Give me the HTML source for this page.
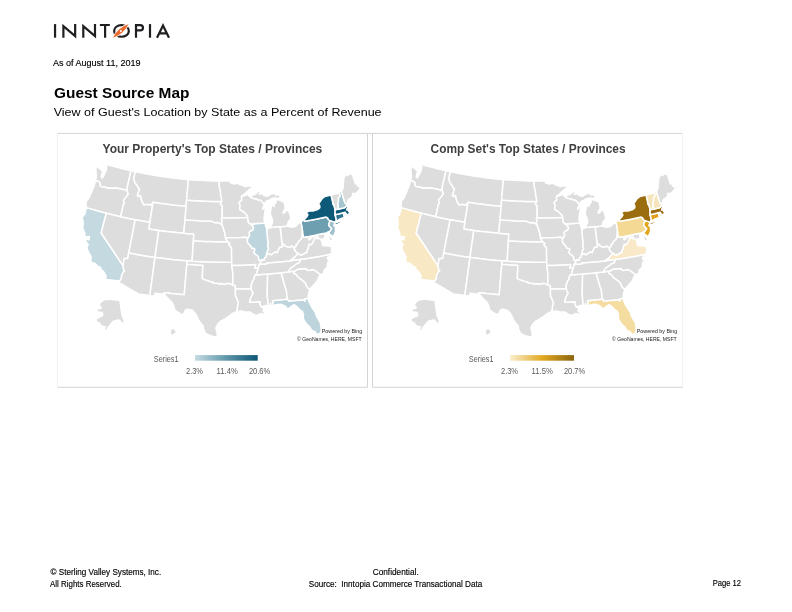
<!DOCTYPE html>
<html><head><meta charset="utf-8"><title>Guest Source Map</title>
<style>
html,body{margin:0;padding:0;background:#fff}
body{width:792px;height:612px;position:relative;overflow:hidden}
svg{position:absolute;left:0;top:0;font-family:"Liberation Sans",sans-serif;will-change:transform;-webkit-font-smoothing:antialiased}
</style></head><body>
<svg width="792" height="612" viewBox="0 0 792 612">
<defs>
<linearGradient id="gb" x1="0" x2="1" y1="0" y2="0"><stop offset="0" stop-color="#c5dbe3"/><stop offset="0.5" stop-color="#5f97aa"/><stop offset="1" stop-color="#0b5675"/></linearGradient>
<linearGradient id="go" x1="0" x2="1" y1="0" y2="0"><stop offset="0" stop-color="#fbeecf"/><stop offset="0.5" stop-color="#e2a922"/><stop offset="1" stop-color="#8c650e"/></linearGradient>
</defs>
<g id="logo" fill="none" stroke="#1f1f21" stroke-width="2.2" stroke-linejoin="miter" stroke-miterlimit="10">
<path d="M55.05,24.1V37.7"/>
<path d="M63.4,37.7V26.2L75.15,36.2V24.1"/>
<path d="M83.3,37.7V26.2L95,36.2V24.1"/>
<path d="M99.9,25H109.8M105.1,25V37.7"/>
<ellipse cx="121.5" cy="30.9" rx="7.35" ry="5.85"/>
<path d="M136,37.7V25.05H140.3a2.65,2.65 0 0 1 0,5.3H136"/>
<path d="M150,24.1V37.7"/>
<path d="M157,37.7L163,25.4L169,37.7M159.2,33.35H166.8"/>
</g>
<path d="M112,38.6Q117.4,27.1 129.5,23.2Q124.2,34.7 112,38.6Z" fill="#ee6b2f" stroke="#fff" stroke-width="0.9"/>
<circle cx="120.9" cy="30.9" r="1" fill="#fff"/>

<g fill="none" stroke="#d4d4d4" stroke-width="1">
<path d="M57.4,133.4H682.6"/>
<path d="M57.4,387.3H367.5M372.5,387.3H682.6"/>
<path d="M367.5,133.4V387.3M372.5,133.4V387.3"/>
</g>
<g fill="none" stroke="#f1f1f1" stroke-width="1"><path d="M57.4,133.4V387.3M682.6,133.4V387.3"/></g>
<g id="mapL"><g stroke="#fff" stroke-width="1.5" stroke-linejoin="round"><path d="M106.2,164.3L106.8,167.3L106.3,170.1L103.8,175.5L102.2,178.0L101.2,176.8L102.6,171.3L100.7,169.4L96.5,165.8L95.9,168.9L96.0,173.2L96.3,176.1L96.3,177.8L95.3,180.2L98.1,181.5L99.9,182.7L100.0,185.9L102.3,187.1L105.7,187.2L107.1,188.3L109.7,188.0L112.8,188.2L114.7,188.0L117.6,188.2L122.2,189.3L127.1,190.4L127.2,187.5L131.0,170.7L126.0,169.6L121.0,168.4L116.1,167.1L111.1,165.7Z" fill="#dddddd"/>
<path d="M95.3,180.2L95.0,182.7L93.6,187.2L92.0,190.9L90.2,195.3L88.4,198.7L86.2,201.6L86.1,204.7L86.2,207.6L91.2,209.1L96.2,210.5L101.3,211.9L106.3,213.2L113.5,215.0L120.7,216.7L123.4,204.6L124.4,203.0L124.1,201.9L123.5,200.3L126.0,197.1L127.1,195.6L128.3,194.1L127.6,191.9L127.1,190.4L122.2,189.3L117.6,188.2L114.7,188.0L112.8,188.2L109.7,188.0L107.1,188.3L105.7,187.2L102.3,187.1L100.0,185.9L99.9,182.7L98.1,181.5Z" fill="#dddddd"/>
<path d="M86.2,207.6L86.0,209.3L84.7,214.2L82.1,217.4L82.9,220.1L83.2,224.4L82.6,228.1L84.9,233.4L84.6,235.4L86.6,237.1L89.5,236.5L88.8,239.8L86.4,238.5L85.8,241.5L87.4,243.7L88.3,244.6L87.3,246.1L86.8,248.1L88.8,252.9L90.4,255.4L91.3,257.5L90.8,259.1L91.0,262.3L95.5,263.8L97.3,266.0L100.8,267.7L100.9,269.7L103.4,271.3L105.9,275.4L105.8,277.1L106.0,279.4L119.6,280.9L121.1,279.3L121.7,275.6L122.9,272.4L124.8,271.0L123.6,269.4L123.2,266.9L123.1,265.8L101.2,233.0L106.3,213.2L101.3,211.9L96.2,210.5L91.2,209.1Z" fill="#c5d9e1"/>
<path d="M106.3,213.2L113.5,215.0L120.7,216.7L127.9,218.3L135.2,219.7L128.7,253.1L127.7,258.4L125.8,258.4L123.9,258.7L123.7,261.8L123.1,265.8L101.2,233.0Z" fill="#dddddd"/>
<path d="M127.1,190.4L127.2,187.5L131.0,170.7L135.3,171.7L133.9,178.2L134.7,182.1L137.2,185.7L138.6,188.4L139.7,188.6L138.6,192.1L137.4,195.4L138.4,196.4L140.4,195.3L140.8,196.7L141.7,200.6L143.0,203.3L143.9,204.8L146.7,204.3L150.4,204.9L151.1,203.8L152.5,205.8L149.8,222.3L142.5,221.1L135.2,219.7L127.9,218.3L120.7,216.7L123.4,204.6L124.4,203.0L124.1,201.9L123.5,200.3L126.0,197.1L127.1,195.6L128.3,194.1L127.6,191.9Z" fill="#dddddd"/>
<path d="M135.3,171.7L139.7,172.6L144.1,173.4L148.5,174.3L152.9,175.0L157.3,175.8L161.7,176.5L166.1,177.1L170.6,177.7L175.0,178.2L179.5,178.7L183.9,179.2L188.4,179.6L186.6,200.0L186.1,206.3L181.4,205.9L176.6,205.4L171.9,204.9L167.2,204.3L162.5,203.7L157.8,203.0L153.0,202.3L152.5,205.8L151.1,203.8L150.4,204.9L146.7,204.3L143.9,204.8L143.0,203.3L141.7,200.6L140.8,196.7L140.4,195.3L138.4,196.4L137.4,195.4L138.6,192.1L139.7,188.6L138.6,188.4L137.2,185.7L134.7,182.1L133.9,178.2Z" fill="#dddddd"/>
<path d="M186.1,206.3L181.4,205.9L176.6,205.4L171.9,204.9L167.2,204.3L162.5,203.7L157.8,203.0L153.0,202.3L152.5,205.8L149.8,222.3L148.8,229.0L153.8,229.8L158.8,230.5L163.8,231.2L168.8,231.8L173.8,232.3L178.8,232.8L183.8,233.3L185.0,219.8Z" fill="#dddddd"/>
<path d="M135.2,219.7L142.5,221.1L149.8,222.3L148.8,229.0L153.8,229.8L158.8,230.5L155.0,257.4L149.8,256.7L144.5,255.9L139.2,255.0L134.0,254.1L128.7,253.1Z" fill="#dddddd"/>
<path d="M183.8,233.3L178.8,232.8L173.8,232.3L168.8,231.8L163.8,231.2L158.8,230.5L155.0,257.4L160.4,258.1L165.7,258.8L171.0,259.4L176.4,259.9L181.7,260.4L187.1,260.8L192.1,261.2L193.4,240.8L193.9,234.0L188.8,233.7Z" fill="#dddddd"/>
<path d="M128.7,253.1L134.0,254.1L139.2,255.0L144.5,255.9L149.8,256.7L155.0,257.4L149.8,295.6L138.3,293.9L118.8,282.3L119.6,280.9L121.1,279.3L121.7,275.6L122.9,272.4L124.8,271.0L123.6,269.4L123.2,266.9L123.1,265.8L123.7,261.8L123.9,258.7L125.8,258.4L127.7,258.4Z" fill="#dddddd"/>
<path d="M187.1,260.8L181.7,260.4L176.4,259.9L171.0,259.4L165.7,258.8L160.4,258.1L155.0,257.4L149.8,295.6L154.5,296.2L154.9,293.2L164.4,294.3L164.1,292.8L171.5,293.6L178.9,294.2L184.2,294.7L186.8,264.2Z" fill="#dddddd"/>
<path d="M186.8,264.2L184.2,294.7L178.9,294.2L171.5,293.6L164.1,292.8L164.4,294.3L166.1,296.6L169.2,299.6L172.4,302.8L173.8,306.0L174.7,309.8L175.7,310.9L178.5,312.7L182.2,315.0L184.1,312.9L185.5,310.0L187.6,309.3L192.2,310.3L195.0,313.1L196.9,316.1L198.8,320.5L201.9,324.7L203.3,326.1L203.5,329.1L205.5,333.4L210.3,335.7L214.3,336.8L217.3,336.7L217.1,333.1L215.9,327.8L217.8,324.1L220.8,321.1L224.9,318.8L229.1,316.0L231.7,314.0L233.7,313.0L236.9,311.5L237.4,308.8L237.6,306.1L238.5,302.7L236.9,298.7L235.5,296.0L235.4,289.1L235.3,285.5L232.8,285.0L229.9,283.4L227.1,283.5L224.3,284.3L221.0,283.6L218.8,283.9L217.7,283.2L215.5,283.2L213.5,283.3L212.7,281.7L210.0,281.4L206.7,280.3L204.5,279.6L202.3,278.3L202.9,265.2L197.5,264.9L192.2,264.6Z" fill="#dddddd"/>
<path d="M192.1,261.2L187.1,260.8L186.8,264.2L192.2,264.6L197.5,264.9L202.9,265.2L202.3,278.3L204.5,279.6L206.7,280.3L210.0,281.4L212.7,281.7L213.5,283.3L215.5,283.2L217.7,283.2L218.8,283.9L221.0,283.6L224.3,284.3L227.1,283.5L229.9,283.4L232.8,285.0L232.9,273.1L231.8,265.6L231.7,262.2L226.0,262.2L220.4,262.2L214.7,262.1L209.1,262.0L203.4,261.8L197.8,261.5Z" fill="#dddddd"/>
<path d="M193.4,240.8L192.1,261.2L197.8,261.5L203.4,261.8L209.1,262.0L214.7,262.1L220.4,262.2L226.0,262.2L231.7,262.2L231.5,247.7L230.0,246.2L229.0,244.8L230.0,243.5L227.9,241.8L222.2,241.8L216.4,241.7L210.7,241.6L204.9,241.4L199.2,241.1Z" fill="#dddddd"/>
<path d="M185.0,219.8L183.8,233.3L188.8,233.7L193.9,234.0L193.4,240.8L199.2,241.1L204.9,241.4L210.7,241.6L216.4,241.7L222.2,241.8L227.9,241.8L226.6,239.8L225.5,237.9L225.1,235.0L224.8,233.0L223.9,230.2L222.9,226.9L222.1,224.8L220.9,223.8L218.5,222.4L215.0,222.8L212.1,221.3L207.2,221.1L201.6,220.9L196.1,220.6L190.5,220.2Z" fill="#dddddd"/>
<path d="M186.6,200.0L186.1,206.3L185.0,219.8L190.5,220.2L196.1,220.6L201.6,220.9L207.2,221.1L212.1,221.3L215.0,222.8L218.5,222.4L220.9,223.8L222.1,224.8L221.6,222.4L222.1,220.8L221.4,218.7L222.2,218.0L222.2,205.9L220.3,203.8L221.7,201.6L216.7,201.5L211.7,201.4L206.7,201.2L201.7,201.0L196.6,200.7L191.6,200.4Z" fill="#dddddd"/>
<path d="M188.4,179.6L186.6,200.0L191.6,200.4L196.6,200.7L201.7,201.0L206.7,201.2L211.7,201.4L216.7,201.5L221.7,201.6L221.6,199.1L220.7,195.1L220.5,191.1L219.4,187.1L219.2,183.7L218.8,181.1L213.8,181.0L208.7,180.8L203.6,180.6L198.5,180.3L193.4,180.0Z" fill="#dddddd"/>
<path d="M221.7,201.6L221.6,199.1L220.7,195.1L220.5,191.1L219.4,187.1L219.2,183.7L218.8,181.1L223.5,181.1L228.2,181.1L228.4,179.7L229.5,180.1L230.2,181.7L230.6,182.9L234.3,184.1L236.1,183.6L238.1,183.4L240.1,184.6L242.4,185.4L245.2,186.8L247.9,185.7L251.6,186.2L253.9,186.8L249.9,189.0L246.4,192.2L243.8,194.5L242.4,196.0L241.5,196.5L241.7,200.2L239.6,201.9L239.0,203.3L240.2,204.9L239.8,207.6L239.6,209.3L242.1,210.8L244.1,212.2L246.1,214.2L247.4,215.8L247.6,217.5L242.5,217.7L237.4,217.9L232.3,218.0L227.2,218.0L222.2,218.0L222.2,205.9L220.3,203.8Z" fill="#dddddd"/>
<path d="M247.6,217.5L242.5,217.7L237.4,217.9L232.3,218.0L227.2,218.0L222.2,218.0L221.4,218.7L222.1,220.8L221.6,222.4L222.1,224.8L222.9,226.9L223.9,230.2L224.8,233.0L225.1,235.0L225.5,237.9L230.7,237.8L235.9,237.7L241.1,237.6L246.0,237.2L247.6,238.7L249.2,236.4L249.8,234.7L249.0,233.0L249.9,231.4L252.6,230.2L253.5,228.7L253.3,226.6L252.1,225.4L250.7,224.1L248.4,222.5L248.1,220.2Z" fill="#dddddd"/>
<path d="M247.6,238.7L246.0,237.2L241.1,237.6L235.9,237.7L230.7,237.8L225.5,237.9L226.6,239.8L227.9,241.8L230.0,243.5L229.0,244.8L230.0,246.2L231.5,247.7L231.7,262.2L231.8,265.6L238.2,265.4L244.7,265.2L251.2,264.9L255.7,264.6L254.7,268.1L258.3,267.9L258.8,266.1L259.2,264.4L260.7,262.9L260.8,261.0L259.4,260.3L258.7,259.0L258.7,257.3L256.9,255.0L255.9,254.6L253.9,252.8L254.7,250.2L254.6,248.4L252.0,248.3L251.7,247.2L249.8,244.9L247.9,242.9L247.4,241.3Z" fill="#dddddd"/>
<path d="M258.3,267.9L254.7,268.1L255.7,264.6L251.2,264.9L244.7,265.2L238.2,265.4L231.8,265.6L232.9,273.1L232.8,285.0L235.3,285.5L235.4,289.1L243.3,289.0L251.3,288.7L251.2,286.0L251.6,283.9L252.6,281.2L254.1,279.0L254.3,277.0L255.5,274.9L256.6,274.1L257.4,270.7Z" fill="#dddddd"/>
<path d="M251.3,288.7L243.3,289.0L235.4,289.1L235.5,296.0L236.9,298.7L238.5,302.7L237.6,306.1L237.4,308.8L236.9,311.5L241.9,311.1L246.0,312.3L248.4,311.8L250.7,312.4L252.6,314.0L255.6,315.2L259.1,314.7L260.2,313.6L262.9,314.1L264.7,314.9L265.5,313.5L263.0,311.0L263.9,308.3L261.5,307.1L261.2,306.4L259.9,304.1L260.4,301.7L255.4,302.0L249.7,302.3L250.2,300.3L250.6,298.2L252.2,294.8L253.2,293.0L252.0,291.4Z" fill="#dddddd"/>
<path d="M255.5,274.9L254.3,277.0L254.1,279.0L252.6,281.2L251.6,283.9L251.2,286.0L251.3,288.7L252.0,291.4L253.2,293.0L252.2,294.8L250.6,298.2L250.2,300.3L249.7,302.3L255.4,302.0L260.4,301.7L259.9,304.1L261.2,306.4L261.5,307.1L264.9,305.6L268.4,305.5L267.2,295.1L267.6,274.7L267.0,274.1L261.3,274.5Z" fill="#dddddd"/>
<path d="M268.4,305.5L267.2,295.1L267.6,274.7L267.0,274.1L274.1,273.4L281.1,272.7L285.1,286.8L286.5,290.5L286.8,295.6L287.5,299.3L278.4,300.2L272.6,300.8L273.7,305.6L271.3,305.6L270.6,303.3L270.2,305.7Z" fill="#dddddd"/>
<path d="M287.5,299.3L286.8,295.6L286.5,290.5L285.1,286.8L281.1,272.7L288.1,271.9L294.7,271.0L293.6,273.2L296.3,274.4L298.4,277.4L300.5,278.8L302.5,280.4L305.4,282.8L306.4,285.8L308.2,288.2L310.1,289.1L308.9,292.2L308.2,295.4L308.1,298.5L304.9,298.7L305.0,301.3L303.9,300.0L296.4,300.6L288.6,301.2Z" fill="#dddddd"/>
<path d="M273.7,305.6L272.6,300.8L278.4,300.2L287.5,299.3L288.6,301.2L296.4,300.6L303.9,300.0L305.0,301.3L304.9,298.7L308.1,298.5L308.8,301.1L310.2,304.3L313.0,309.0L315.7,312.7L315.8,315.0L318.3,319.4L320.4,322.8L321.3,329.7L320.3,333.3L317.1,334.8L315.1,331.7L311.5,330.3L310.1,327.4L307.6,325.1L305.0,321.8L303.3,318.6L303.4,314.9L302.6,311.6L300.0,309.9L297.3,306.9L294.0,304.7L292.1,305.8L288.6,308.5L286.5,308.3L286.1,306.9L283.9,305.4L280.5,304.2L276.5,304.8Z" fill="#bdd4dd"/>
<path d="M294.7,271.0L293.6,273.2L296.3,274.4L298.4,277.4L300.5,278.8L302.5,280.4L305.4,282.8L306.4,285.8L308.2,288.2L310.1,289.1L312.0,286.9L314.7,283.7L317.3,280.9L318.1,279.0L319.1,276.4L320.7,274.7L313.5,269.5L307.5,270.4L306.4,268.6L305.8,269.0L305.7,268.4L298.3,269.1Z" fill="#dddddd"/>
<path d="M288.1,271.9L294.7,271.0L298.3,269.1L305.7,268.4L305.8,269.0L306.4,268.6L307.5,270.4L313.5,269.5L320.7,274.7L323.7,273.8L324.1,270.3L327.4,266.9L327.4,262.9L331.3,260.3L328.2,260.0L327.4,257.7L331.4,254.9L331.5,253.9L325.4,255.2L319.2,256.4L313.1,257.5L307.0,258.5L300.8,259.2L299.0,262.9L296.4,263.7L294.0,265.8L291.0,267.6L289.3,269.9Z" fill="#dddddd"/>
<path d="M267.0,274.1L261.3,274.5L255.5,274.9L256.6,274.1L257.4,270.7L258.3,267.9L258.8,266.1L259.2,264.4L266.9,263.8L266.9,262.8L272.5,262.4L277.8,261.9L284.2,261.4L290.2,260.7L295.4,259.9L300.8,259.2L299.0,262.9L296.4,263.7L294.0,265.8L291.0,267.6L289.3,269.9L288.1,271.9L281.1,272.7L274.1,273.4Z" fill="#dddddd"/>
<path d="M290.2,260.7L284.2,261.4L277.8,261.9L272.5,262.4L266.9,262.8L266.9,263.8L259.2,264.4L260.7,262.9L260.8,261.0L261.5,259.5L263.7,260.2L264.4,259.3L264.3,257.9L266.1,257.1L266.2,255.0L268.6,253.6L271.2,254.8L272.8,253.4L274.2,252.6L275.1,251.7L277.1,252.6L277.9,250.7L279.5,247.3L281.1,247.0L282.5,246.5L282.1,244.5L283.8,244.3L284.9,245.2L285.6,246.2L288.0,246.9L290.4,246.9L291.8,245.8L292.7,246.6L294.2,247.6L294.5,249.8L295.7,251.3L296.4,252.4L298.3,253.1L296.8,254.9L294.8,257.0L293.0,258.6Z" fill="#dddddd"/>
<path d="M298.3,253.1L296.8,254.9L294.8,257.0L293.0,258.6L290.2,260.7L295.4,259.9L300.8,259.2L307.0,258.5L313.1,257.5L319.2,256.4L325.4,255.2L331.5,253.9L331.6,250.0L331.3,246.4L326.9,245.8L322.5,245.4L322.1,242.0L320.8,239.4L319.5,238.5L318.1,237.4L317.8,238.7L314.8,237.3L313.0,242.2L311.5,244.4L310.1,244.5L309.2,244.1L308.2,247.6L308.1,248.7L306.9,250.7L307.1,252.0L304.3,253.5L302.5,254.5L300.2,255.1Z" fill="#dddddd"/>
<path d="M294.2,247.6L294.5,249.8L295.7,251.3L296.4,252.4L298.3,253.1L300.2,255.1L302.5,254.5L304.3,253.5L307.1,252.0L306.9,250.7L308.1,248.7L308.2,247.6L309.2,244.1L310.1,244.5L311.5,244.4L313.0,242.2L314.8,237.3L317.8,238.7L318.1,237.4L317.2,235.6L315.3,235.6L312.6,236.5L311.0,237.8L309.3,239.8L308.7,236.4L303.5,237.2L302.5,231.1L301.9,231.4L302.2,232.8L301.9,234.9L301.8,237.3L301.2,238.8L299.7,240.4L298.7,241.1L297.9,242.5L297.3,243.9L296.1,244.4L296.1,246.1L294.9,247.5Z" fill="#dddddd"/>
<path d="M308.7,236.4L309.3,239.8L311.0,237.8L312.6,236.5L315.3,235.6L317.2,235.6L318.1,237.4L319.5,238.5L320.8,239.4L324.6,238.6L324.9,236.2L324.8,233.3L319.4,234.3L314.1,235.4Z" fill="#dddddd"/>
<path d="M327.3,232.7L329.6,241.0L332.9,240.3L332.2,238.1L330.2,236.4L328.9,234.2L329.2,231.8L328.1,231.8Z" fill="#dddddd"/>
<path d="M302.5,231.1L303.5,237.2L308.7,236.4L314.1,235.4L319.4,234.3L324.8,233.3L327.3,232.7L328.1,231.8L329.2,231.8L330.4,230.8L331.0,229.6L331.8,228.5L330.6,227.6L329.7,226.4L328.8,225.6L328.9,223.8L329.3,222.8L330.3,220.6L329.2,220.3L328.2,219.4L327.9,218.1L326.2,217.1L321.6,218.1L316.0,219.2L310.3,220.3L304.7,221.3L304.4,219.5L301.0,222.1Z" fill="#6e9fb0"/>
<path d="M329.2,231.8L330.4,230.8L331.0,229.6L331.8,228.5L330.6,227.6L329.7,226.4L328.8,225.6L328.9,223.8L329.3,222.8L330.3,220.6L334.8,222.1L334.5,224.1L334.1,224.8L333.8,225.8L335.2,225.9L335.7,230.6L334.8,233.3L333.0,237.0L331.6,235.4L329.1,233.9Z" fill="#9dbfcc"/>
<path d="M330.3,220.6L329.2,220.3L328.2,219.4L327.9,218.1L326.2,217.1L321.6,218.1L316.0,219.2L310.3,220.3L304.7,221.3L304.4,219.5L307.1,216.4L307.9,214.9L307.3,214.3L306.6,212.3L309.2,211.1L313.6,210.9L317.8,209.5L319.9,207.7L319.6,205.0L318.4,204.0L320.3,201.4L322.3,198.3L324.8,196.6L331.1,195.1L332.4,200.4L333.1,204.4L333.9,204.5L335.1,209.8L335.1,214.7L336.5,220.3L335.5,221.2L336.0,221.8L335.6,222.8L336.0,222.7L338.3,221.8L340.9,220.7L342.4,219.2L342.0,220.7L343.0,219.7L344.7,219.2L342.4,221.3L340.6,222.6L337.4,224.4L334.8,225.0L334.7,224.2L334.9,223.5L334.8,222.1Z" fill="#0d5977"/>
<path d="M336.0,221.8L335.5,221.2L336.5,220.3L335.1,214.7L339.5,213.8L343.3,212.8L344.4,216.9L344.3,217.5L339.3,219.3Z" fill="#2d7590"/>
<path d="M343.3,212.8L344.4,216.9L344.3,217.5L346.2,216.1L347.5,215.4L346.8,214.2L345.5,213.1L345.3,212.3Z" fill="#f6f6f6"/>
<path d="M335.1,214.7L335.1,209.8L339.0,209.0L344.5,207.8L344.9,207.3L346.5,206.0L348.0,207.2L347.0,208.5L346.7,210.0L348.0,210.0L348.9,211.5L349.7,212.7L351.0,212.8L352.1,212.0L350.9,210.5L352.3,210.9L352.8,212.7L351.2,213.5L349.7,214.5L349.4,213.3L348.4,214.5L347.5,215.4L346.8,214.2L345.5,213.1L345.3,212.3L343.3,212.8L339.5,213.8Z" fill="#0d5977"/>
<path d="M335.1,209.8L333.9,204.5L333.1,204.4L332.4,200.4L331.1,195.1L339.6,192.9L340.1,195.6L339.9,196.7L338.3,198.2L338.6,199.5L338.4,201.7L338.0,203.2L338.2,205.9L338.3,208.0L339.0,209.0Z" fill="#dddddd"/>
<path d="M339.0,209.0L338.3,208.0L338.2,205.9L338.0,203.2L338.4,201.7L338.6,199.5L338.3,198.2L339.9,196.7L340.1,195.6L339.6,192.9L339.6,191.2L341.0,190.5L342.7,195.6L344.1,200.2L344.9,202.8L345.9,203.7L346.7,204.6L346.5,206.0L344.9,207.3L344.5,207.8Z" fill="#a4c4d0"/>
<path d="M341.0,190.5L342.7,195.6L344.1,200.2L344.9,202.8L345.9,203.7L346.7,204.6L347.1,203.9L347.6,202.0L348.0,200.1L350.5,198.1L352.5,196.4L352.8,193.2L353.2,193.7L356.1,193.2L358.6,190.7L360.5,188.0L358.5,186.5L357.6,185.9L356.9,183.8L355.2,183.8L354.8,182.4L352.5,174.8L349.7,173.6L347.4,175.6L346.5,175.0L345.4,174.2L343.4,180.1L343.7,182.1L343.0,183.7L343.3,186.7L342.6,189.4L342.2,190.5Z" fill="#dddddd"/>
<path d="M301.0,222.1L302.5,231.1L301.9,231.4L302.2,232.8L301.9,234.9L301.8,237.3L301.2,238.8L299.7,240.4L298.7,241.1L297.9,242.5L297.3,243.9L296.1,244.4L296.1,246.1L294.9,247.5L294.2,247.6L292.7,246.6L291.8,245.8L290.4,246.9L288.0,246.9L285.6,246.2L284.9,245.2L283.8,244.3L282.1,244.5L280.1,227.0L286.8,225.9L289.2,226.8L290.5,227.0L292.3,227.2L295.7,226.2L298.8,223.3Z" fill="#dddddd"/>
<path d="M280.1,227.0L282.1,244.5L282.5,246.5L281.1,247.0L279.5,247.3L277.9,250.7L277.1,252.6L275.1,251.7L274.2,252.6L272.8,253.4L271.2,254.8L268.6,253.6L266.2,255.0L267.4,250.8L268.6,248.7L267.5,246.0L268.0,244.3L266.6,228.4L268.3,228.7L270.1,227.6L280.1,226.6Z" fill="#dddddd"/>
<path d="M266.6,228.4L268.0,244.3L267.5,246.0L268.6,248.7L267.4,250.8L266.2,255.0L266.1,257.1L264.3,257.9L264.4,259.3L263.7,260.2L261.5,259.5L260.8,261.0L259.4,260.3L258.7,259.0L258.7,257.3L256.9,255.0L255.9,254.6L253.9,252.8L254.7,250.2L254.6,248.4L252.0,248.3L251.7,247.2L249.8,244.9L247.9,242.9L247.4,241.3L247.6,238.7L249.2,236.4L249.8,234.7L249.0,233.0L249.9,231.4L252.6,230.2L253.5,228.7L253.3,226.6L252.1,225.4L250.7,224.1L257.8,223.6L264.8,223.1L266.1,227.4Z" fill="#bed5de"/>
<path d="M264.8,223.1L257.8,223.6L250.7,224.1L248.4,222.5L248.1,220.2L247.6,217.5L247.4,215.8L246.1,214.2L244.1,212.2L242.1,210.8L239.6,209.3L239.8,207.6L240.2,204.9L239.0,203.3L239.6,201.9L241.7,200.2L241.5,196.5L242.4,196.0L243.4,196.1L246.5,194.9L248.6,194.1L248.7,195.8L250.4,196.6L251.8,198.0L256.6,199.1L258.0,199.7L260.4,200.0L261.4,201.0L262.7,202.2L263.8,203.8L264.2,205.5L263.0,207.6L262.6,209.3L263.7,208.2L266.7,203.9L265.1,210.5L264.5,214.6L264.0,219.4Z" fill="#dddddd"/>
<path d="M280.1,227.0L280.1,226.6L270.1,227.6L271.2,225.5L272.5,223.0L272.4,219.6L271.6,217.3L270.3,214.4L270.4,212.0L271.0,208.6L271.4,206.1L272.8,205.3L273.8,203.8L273.9,206.5L274.6,204.1L276.3,202.2L275.6,200.9L277.1,199.5L279.8,200.2L283.3,201.7L284.5,203.5L284.9,205.9L285.2,208.6L284.0,210.4L282.9,213.0L284.8,212.7L285.5,210.9L287.1,209.9L289.1,211.8L290.5,216.7L290.6,219.1L288.9,221.0L288.1,222.2L287.8,223.9L286.8,225.9ZM264.2,205.5L263.8,203.8L262.7,202.2L261.4,201.0L260.4,200.0L258.0,199.7L256.6,199.1L251.8,198.0L250.4,196.6L253.5,194.6L255.3,194.2L257.0,192.6L259.2,190.7L261.4,189.7L261.1,191.2L260.2,192.0L259.3,194.4L261.8,193.5L264.3,195.7L266.6,196.1L267.8,196.2L270.2,194.3L275.2,193.1L275.4,194.9L277.3,194.8L278.4,194.5L279.8,196.0L280.9,197.6L278.8,198.0L277.2,198.9L275.7,197.9L273.0,198.2L270.2,199.1L268.8,201.7L267.8,200.4L266.6,200.9L265.2,203.0Z" fill="#dddddd"/>
<path d="M104.1,300.4L110.2,300.1L119.3,301.1L120.3,308.9L121.3,315.3L123.1,319.7L123.8,322.6L121.8,322.2L120.3,319.7L117.1,319.3L115.3,320.3L113.4,320.3L110.8,323.1L108.3,326.0L107.0,327.9L105.8,330.7L105.2,329.1L106.4,326.0L103.9,326.0L101.1,324.7L100.1,322.6L97.3,321.6L96.9,319.3L99.5,317.8L102.6,316.8L103.6,314.6L102.6,311.7L97.8,311.2L97.8,309.6L101.4,308.9L102.0,307.0L100.1,305.4L100.7,303.3Z" fill="#dddddd" stroke="none"/><path d="M171.4,329.8L173.6,328.9L175.9,332.3L172.1,334.8L170.8,332.9Z" fill="#dddddd" stroke="none"/></g></g>
<g id="mapR" transform="translate(315.0,0)"><g stroke="#fff" stroke-width="1.5" stroke-linejoin="round"><path d="M106.2,164.3L106.8,167.3L106.3,170.1L103.8,175.5L102.2,178.0L101.2,176.8L102.6,171.3L100.7,169.4L96.5,165.8L95.9,168.9L96.0,173.2L96.3,176.1L96.3,177.8L95.3,180.2L98.1,181.5L99.9,182.7L100.0,185.9L102.3,187.1L105.7,187.2L107.1,188.3L109.7,188.0L112.8,188.2L114.7,188.0L117.6,188.2L122.2,189.3L127.1,190.4L127.2,187.5L131.0,170.7L126.0,169.6L121.0,168.4L116.1,167.1L111.1,165.7Z" fill="#dddddd"/>
<path d="M95.3,180.2L95.0,182.7L93.6,187.2L92.0,190.9L90.2,195.3L88.4,198.7L86.2,201.6L86.1,204.7L86.2,207.6L91.2,209.1L96.2,210.5L101.3,211.9L106.3,213.2L113.5,215.0L120.7,216.7L123.4,204.6L124.4,203.0L124.1,201.9L123.5,200.3L126.0,197.1L127.1,195.6L128.3,194.1L127.6,191.9L127.1,190.4L122.2,189.3L117.6,188.2L114.7,188.0L112.8,188.2L109.7,188.0L107.1,188.3L105.7,187.2L102.3,187.1L100.0,185.9L99.9,182.7L98.1,181.5Z" fill="#dddddd"/>
<path d="M86.2,207.6L86.0,209.3L84.7,214.2L82.1,217.4L82.9,220.1L83.2,224.4L82.6,228.1L84.9,233.4L84.6,235.4L86.6,237.1L89.5,236.5L88.8,239.8L86.4,238.5L85.8,241.5L87.4,243.7L88.3,244.6L87.3,246.1L86.8,248.1L88.8,252.9L90.4,255.4L91.3,257.5L90.8,259.1L91.0,262.3L95.5,263.8L97.3,266.0L100.8,267.7L100.9,269.7L103.4,271.3L105.9,275.4L105.8,277.1L106.0,279.4L119.6,280.9L121.1,279.3L121.7,275.6L122.9,272.4L124.8,271.0L123.6,269.4L123.2,266.9L123.1,265.8L101.2,233.0L106.3,213.2L101.3,211.9L96.2,210.5L91.2,209.1Z" fill="#f8e8c4"/>
<path d="M106.3,213.2L113.5,215.0L120.7,216.7L127.9,218.3L135.2,219.7L128.7,253.1L127.7,258.4L125.8,258.4L123.9,258.7L123.7,261.8L123.1,265.8L101.2,233.0Z" fill="#dddddd"/>
<path d="M127.1,190.4L127.2,187.5L131.0,170.7L135.3,171.7L133.9,178.2L134.7,182.1L137.2,185.7L138.6,188.4L139.7,188.6L138.6,192.1L137.4,195.4L138.4,196.4L140.4,195.3L140.8,196.7L141.7,200.6L143.0,203.3L143.9,204.8L146.7,204.3L150.4,204.9L151.1,203.8L152.5,205.8L149.8,222.3L142.5,221.1L135.2,219.7L127.9,218.3L120.7,216.7L123.4,204.6L124.4,203.0L124.1,201.9L123.5,200.3L126.0,197.1L127.1,195.6L128.3,194.1L127.6,191.9Z" fill="#dddddd"/>
<path d="M135.3,171.7L139.7,172.6L144.1,173.4L148.5,174.3L152.9,175.0L157.3,175.8L161.7,176.5L166.1,177.1L170.6,177.7L175.0,178.2L179.5,178.7L183.9,179.2L188.4,179.6L186.6,200.0L186.1,206.3L181.4,205.9L176.6,205.4L171.9,204.9L167.2,204.3L162.5,203.7L157.8,203.0L153.0,202.3L152.5,205.8L151.1,203.8L150.4,204.9L146.7,204.3L143.9,204.8L143.0,203.3L141.7,200.6L140.8,196.7L140.4,195.3L138.4,196.4L137.4,195.4L138.6,192.1L139.7,188.6L138.6,188.4L137.2,185.7L134.7,182.1L133.9,178.2Z" fill="#dddddd"/>
<path d="M186.1,206.3L181.4,205.9L176.6,205.4L171.9,204.9L167.2,204.3L162.5,203.7L157.8,203.0L153.0,202.3L152.5,205.8L149.8,222.3L148.8,229.0L153.8,229.8L158.8,230.5L163.8,231.2L168.8,231.8L173.8,232.3L178.8,232.8L183.8,233.3L185.0,219.8Z" fill="#dddddd"/>
<path d="M135.2,219.7L142.5,221.1L149.8,222.3L148.8,229.0L153.8,229.8L158.8,230.5L155.0,257.4L149.8,256.7L144.5,255.9L139.2,255.0L134.0,254.1L128.7,253.1Z" fill="#dddddd"/>
<path d="M183.8,233.3L178.8,232.8L173.8,232.3L168.8,231.8L163.8,231.2L158.8,230.5L155.0,257.4L160.4,258.1L165.7,258.8L171.0,259.4L176.4,259.9L181.7,260.4L187.1,260.8L192.1,261.2L193.4,240.8L193.9,234.0L188.8,233.7Z" fill="#dddddd"/>
<path d="M128.7,253.1L134.0,254.1L139.2,255.0L144.5,255.9L149.8,256.7L155.0,257.4L149.8,295.6L138.3,293.9L118.8,282.3L119.6,280.9L121.1,279.3L121.7,275.6L122.9,272.4L124.8,271.0L123.6,269.4L123.2,266.9L123.1,265.8L123.7,261.8L123.9,258.7L125.8,258.4L127.7,258.4Z" fill="#dddddd"/>
<path d="M187.1,260.8L181.7,260.4L176.4,259.9L171.0,259.4L165.7,258.8L160.4,258.1L155.0,257.4L149.8,295.6L154.5,296.2L154.9,293.2L164.4,294.3L164.1,292.8L171.5,293.6L178.9,294.2L184.2,294.7L186.8,264.2Z" fill="#dddddd"/>
<path d="M186.8,264.2L184.2,294.7L178.9,294.2L171.5,293.6L164.1,292.8L164.4,294.3L166.1,296.6L169.2,299.6L172.4,302.8L173.8,306.0L174.7,309.8L175.7,310.9L178.5,312.7L182.2,315.0L184.1,312.9L185.5,310.0L187.6,309.3L192.2,310.3L195.0,313.1L196.9,316.1L198.8,320.5L201.9,324.7L203.3,326.1L203.5,329.1L205.5,333.4L210.3,335.7L214.3,336.8L217.3,336.7L217.1,333.1L215.9,327.8L217.8,324.1L220.8,321.1L224.9,318.8L229.1,316.0L231.7,314.0L233.7,313.0L236.9,311.5L237.4,308.8L237.6,306.1L238.5,302.7L236.9,298.7L235.5,296.0L235.4,289.1L235.3,285.5L232.8,285.0L229.9,283.4L227.1,283.5L224.3,284.3L221.0,283.6L218.8,283.9L217.7,283.2L215.5,283.2L213.5,283.3L212.7,281.7L210.0,281.4L206.7,280.3L204.5,279.6L202.3,278.3L202.9,265.2L197.5,264.9L192.2,264.6Z" fill="#dddddd"/>
<path d="M192.1,261.2L187.1,260.8L186.8,264.2L192.2,264.6L197.5,264.9L202.9,265.2L202.3,278.3L204.5,279.6L206.7,280.3L210.0,281.4L212.7,281.7L213.5,283.3L215.5,283.2L217.7,283.2L218.8,283.9L221.0,283.6L224.3,284.3L227.1,283.5L229.9,283.4L232.8,285.0L232.9,273.1L231.8,265.6L231.7,262.2L226.0,262.2L220.4,262.2L214.7,262.1L209.1,262.0L203.4,261.8L197.8,261.5Z" fill="#dddddd"/>
<path d="M193.4,240.8L192.1,261.2L197.8,261.5L203.4,261.8L209.1,262.0L214.7,262.1L220.4,262.2L226.0,262.2L231.7,262.2L231.5,247.7L230.0,246.2L229.0,244.8L230.0,243.5L227.9,241.8L222.2,241.8L216.4,241.7L210.7,241.6L204.9,241.4L199.2,241.1Z" fill="#dddddd"/>
<path d="M185.0,219.8L183.8,233.3L188.8,233.7L193.9,234.0L193.4,240.8L199.2,241.1L204.9,241.4L210.7,241.6L216.4,241.7L222.2,241.8L227.9,241.8L226.6,239.8L225.5,237.9L225.1,235.0L224.8,233.0L223.9,230.2L222.9,226.9L222.1,224.8L220.9,223.8L218.5,222.4L215.0,222.8L212.1,221.3L207.2,221.1L201.6,220.9L196.1,220.6L190.5,220.2Z" fill="#dddddd"/>
<path d="M186.6,200.0L186.1,206.3L185.0,219.8L190.5,220.2L196.1,220.6L201.6,220.9L207.2,221.1L212.1,221.3L215.0,222.8L218.5,222.4L220.9,223.8L222.1,224.8L221.6,222.4L222.1,220.8L221.4,218.7L222.2,218.0L222.2,205.9L220.3,203.8L221.7,201.6L216.7,201.5L211.7,201.4L206.7,201.2L201.7,201.0L196.6,200.7L191.6,200.4Z" fill="#dddddd"/>
<path d="M188.4,179.6L186.6,200.0L191.6,200.4L196.6,200.7L201.7,201.0L206.7,201.2L211.7,201.4L216.7,201.5L221.7,201.6L221.6,199.1L220.7,195.1L220.5,191.1L219.4,187.1L219.2,183.7L218.8,181.1L213.8,181.0L208.7,180.8L203.6,180.6L198.5,180.3L193.4,180.0Z" fill="#dddddd"/>
<path d="M221.7,201.6L221.6,199.1L220.7,195.1L220.5,191.1L219.4,187.1L219.2,183.7L218.8,181.1L223.5,181.1L228.2,181.1L228.4,179.7L229.5,180.1L230.2,181.7L230.6,182.9L234.3,184.1L236.1,183.6L238.1,183.4L240.1,184.6L242.4,185.4L245.2,186.8L247.9,185.7L251.6,186.2L253.9,186.8L249.9,189.0L246.4,192.2L243.8,194.5L242.4,196.0L241.5,196.5L241.7,200.2L239.6,201.9L239.0,203.3L240.2,204.9L239.8,207.6L239.6,209.3L242.1,210.8L244.1,212.2L246.1,214.2L247.4,215.8L247.6,217.5L242.5,217.7L237.4,217.9L232.3,218.0L227.2,218.0L222.2,218.0L222.2,205.9L220.3,203.8Z" fill="#dddddd"/>
<path d="M247.6,217.5L242.5,217.7L237.4,217.9L232.3,218.0L227.2,218.0L222.2,218.0L221.4,218.7L222.1,220.8L221.6,222.4L222.1,224.8L222.9,226.9L223.9,230.2L224.8,233.0L225.1,235.0L225.5,237.9L230.7,237.8L235.9,237.7L241.1,237.6L246.0,237.2L247.6,238.7L249.2,236.4L249.8,234.7L249.0,233.0L249.9,231.4L252.6,230.2L253.5,228.7L253.3,226.6L252.1,225.4L250.7,224.1L248.4,222.5L248.1,220.2Z" fill="#dddddd"/>
<path d="M247.6,238.7L246.0,237.2L241.1,237.6L235.9,237.7L230.7,237.8L225.5,237.9L226.6,239.8L227.9,241.8L230.0,243.5L229.0,244.8L230.0,246.2L231.5,247.7L231.7,262.2L231.8,265.6L238.2,265.4L244.7,265.2L251.2,264.9L255.7,264.6L254.7,268.1L258.3,267.9L258.8,266.1L259.2,264.4L260.7,262.9L260.8,261.0L259.4,260.3L258.7,259.0L258.7,257.3L256.9,255.0L255.9,254.6L253.9,252.8L254.7,250.2L254.6,248.4L252.0,248.3L251.7,247.2L249.8,244.9L247.9,242.9L247.4,241.3Z" fill="#dddddd"/>
<path d="M258.3,267.9L254.7,268.1L255.7,264.6L251.2,264.9L244.7,265.2L238.2,265.4L231.8,265.6L232.9,273.1L232.8,285.0L235.3,285.5L235.4,289.1L243.3,289.0L251.3,288.7L251.2,286.0L251.6,283.9L252.6,281.2L254.1,279.0L254.3,277.0L255.5,274.9L256.6,274.1L257.4,270.7Z" fill="#dddddd"/>
<path d="M251.3,288.7L243.3,289.0L235.4,289.1L235.5,296.0L236.9,298.7L238.5,302.7L237.6,306.1L237.4,308.8L236.9,311.5L241.9,311.1L246.0,312.3L248.4,311.8L250.7,312.4L252.6,314.0L255.6,315.2L259.1,314.7L260.2,313.6L262.9,314.1L264.7,314.9L265.5,313.5L263.0,311.0L263.9,308.3L261.5,307.1L261.2,306.4L259.9,304.1L260.4,301.7L255.4,302.0L249.7,302.3L250.2,300.3L250.6,298.2L252.2,294.8L253.2,293.0L252.0,291.4Z" fill="#dddddd"/>
<path d="M255.5,274.9L254.3,277.0L254.1,279.0L252.6,281.2L251.6,283.9L251.2,286.0L251.3,288.7L252.0,291.4L253.2,293.0L252.2,294.8L250.6,298.2L250.2,300.3L249.7,302.3L255.4,302.0L260.4,301.7L259.9,304.1L261.2,306.4L261.5,307.1L264.9,305.6L268.4,305.5L267.2,295.1L267.6,274.7L267.0,274.1L261.3,274.5Z" fill="#dddddd"/>
<path d="M268.4,305.5L267.2,295.1L267.6,274.7L267.0,274.1L274.1,273.4L281.1,272.7L285.1,286.8L286.5,290.5L286.8,295.6L287.5,299.3L278.4,300.2L272.6,300.8L273.7,305.6L271.3,305.6L270.6,303.3L270.2,305.7Z" fill="#dddddd"/>
<path d="M287.5,299.3L286.8,295.6L286.5,290.5L285.1,286.8L281.1,272.7L288.1,271.9L294.7,271.0L293.6,273.2L296.3,274.4L298.4,277.4L300.5,278.8L302.5,280.4L305.4,282.8L306.4,285.8L308.2,288.2L310.1,289.1L308.9,292.2L308.2,295.4L308.1,298.5L304.9,298.7L305.0,301.3L303.9,300.0L296.4,300.6L288.6,301.2Z" fill="#dddddd"/>
<path d="M273.7,305.6L272.6,300.8L278.4,300.2L287.5,299.3L288.6,301.2L296.4,300.6L303.9,300.0L305.0,301.3L304.9,298.7L308.1,298.5L308.8,301.1L310.2,304.3L313.0,309.0L315.7,312.7L315.8,315.0L318.3,319.4L320.4,322.8L321.3,329.7L320.3,333.3L317.1,334.8L315.1,331.7L311.5,330.3L310.1,327.4L307.6,325.1L305.0,321.8L303.3,318.6L303.4,314.9L302.6,311.6L300.0,309.9L297.3,306.9L294.0,304.7L292.1,305.8L288.6,308.5L286.5,308.3L286.1,306.9L283.9,305.4L280.5,304.2L276.5,304.8Z" fill="#f5dda2"/>
<path d="M294.7,271.0L293.6,273.2L296.3,274.4L298.4,277.4L300.5,278.8L302.5,280.4L305.4,282.8L306.4,285.8L308.2,288.2L310.1,289.1L312.0,286.9L314.7,283.7L317.3,280.9L318.1,279.0L319.1,276.4L320.7,274.7L313.5,269.5L307.5,270.4L306.4,268.6L305.8,269.0L305.7,268.4L298.3,269.1Z" fill="#dddddd"/>
<path d="M288.1,271.9L294.7,271.0L298.3,269.1L305.7,268.4L305.8,269.0L306.4,268.6L307.5,270.4L313.5,269.5L320.7,274.7L323.7,273.8L324.1,270.3L327.4,266.9L327.4,262.9L331.3,260.3L328.2,260.0L327.4,257.7L331.4,254.9L331.5,253.9L325.4,255.2L319.2,256.4L313.1,257.5L307.0,258.5L300.8,259.2L299.0,262.9L296.4,263.7L294.0,265.8L291.0,267.6L289.3,269.9Z" fill="#dddddd"/>
<path d="M267.0,274.1L261.3,274.5L255.5,274.9L256.6,274.1L257.4,270.7L258.3,267.9L258.8,266.1L259.2,264.4L266.9,263.8L266.9,262.8L272.5,262.4L277.8,261.9L284.2,261.4L290.2,260.7L295.4,259.9L300.8,259.2L299.0,262.9L296.4,263.7L294.0,265.8L291.0,267.6L289.3,269.9L288.1,271.9L281.1,272.7L274.1,273.4Z" fill="#dddddd"/>
<path d="M290.2,260.7L284.2,261.4L277.8,261.9L272.5,262.4L266.9,262.8L266.9,263.8L259.2,264.4L260.7,262.9L260.8,261.0L261.5,259.5L263.7,260.2L264.4,259.3L264.3,257.9L266.1,257.1L266.2,255.0L268.6,253.6L271.2,254.8L272.8,253.4L274.2,252.6L275.1,251.7L277.1,252.6L277.9,250.7L279.5,247.3L281.1,247.0L282.5,246.5L282.1,244.5L283.8,244.3L284.9,245.2L285.6,246.2L288.0,246.9L290.4,246.9L291.8,245.8L292.7,246.6L294.2,247.6L294.5,249.8L295.7,251.3L296.4,252.4L298.3,253.1L296.8,254.9L294.8,257.0L293.0,258.6Z" fill="#dddddd"/>
<path d="M298.3,253.1L296.8,254.9L294.8,257.0L293.0,258.6L290.2,260.7L295.4,259.9L300.8,259.2L307.0,258.5L313.1,257.5L319.2,256.4L325.4,255.2L331.5,253.9L331.6,250.0L331.3,246.4L326.9,245.8L322.5,245.4L322.1,242.0L320.8,239.4L319.5,238.5L318.1,237.4L317.8,238.7L314.8,237.3L313.0,242.2L311.5,244.4L310.1,244.5L309.2,244.1L308.2,247.6L308.1,248.7L306.9,250.7L307.1,252.0L304.3,253.5L302.5,254.5L300.2,255.1Z" fill="#f9e9c8"/>
<path d="M294.2,247.6L294.5,249.8L295.7,251.3L296.4,252.4L298.3,253.1L300.2,255.1L302.5,254.5L304.3,253.5L307.1,252.0L306.9,250.7L308.1,248.7L308.2,247.6L309.2,244.1L310.1,244.5L311.5,244.4L313.0,242.2L314.8,237.3L317.8,238.7L318.1,237.4L317.2,235.6L315.3,235.6L312.6,236.5L311.0,237.8L309.3,239.8L308.7,236.4L303.5,237.2L302.5,231.1L301.9,231.4L302.2,232.8L301.9,234.9L301.8,237.3L301.2,238.8L299.7,240.4L298.7,241.1L297.9,242.5L297.3,243.9L296.1,244.4L296.1,246.1L294.9,247.5Z" fill="#dddddd"/>
<path d="M308.7,236.4L309.3,239.8L311.0,237.8L312.6,236.5L315.3,235.6L317.2,235.6L318.1,237.4L319.5,238.5L320.8,239.4L324.6,238.6L324.9,236.2L324.8,233.3L319.4,234.3L314.1,235.4Z" fill="#dddddd"/>
<path d="M327.3,232.7L329.6,241.0L332.9,240.3L332.2,238.1L330.2,236.4L328.9,234.2L329.2,231.8L328.1,231.8Z" fill="#dddddd"/>
<path d="M302.5,231.1L303.5,237.2L308.7,236.4L314.1,235.4L319.4,234.3L324.8,233.3L327.3,232.7L328.1,231.8L329.2,231.8L330.4,230.8L331.0,229.6L331.8,228.5L330.6,227.6L329.7,226.4L328.8,225.6L328.9,223.8L329.3,222.8L330.3,220.6L329.2,220.3L328.2,219.4L327.9,218.1L326.2,217.1L321.6,218.1L316.0,219.2L310.3,220.3L304.7,221.3L304.4,219.5L301.0,222.1Z" fill="#f4d995"/>
<path d="M329.2,231.8L330.4,230.8L331.0,229.6L331.8,228.5L330.6,227.6L329.7,226.4L328.8,225.6L328.9,223.8L329.3,222.8L330.3,220.6L334.8,222.1L334.5,224.1L334.1,224.8L333.8,225.8L335.2,225.9L335.7,230.6L334.8,233.3L333.0,237.0L331.6,235.4L329.1,233.9Z" fill="#e2a41a"/>
<path d="M330.3,220.6L329.2,220.3L328.2,219.4L327.9,218.1L326.2,217.1L321.6,218.1L316.0,219.2L310.3,220.3L304.7,221.3L304.4,219.5L307.1,216.4L307.9,214.9L307.3,214.3L306.6,212.3L309.2,211.1L313.6,210.9L317.8,209.5L319.9,207.7L319.6,205.0L318.4,204.0L320.3,201.4L322.3,198.3L324.8,196.6L331.1,195.1L332.4,200.4L333.1,204.4L333.9,204.5L335.1,209.8L335.1,214.7L336.5,220.3L335.5,221.2L336.0,221.8L335.6,222.8L336.0,222.7L338.3,221.8L340.9,220.7L342.4,219.2L342.0,220.7L343.0,219.7L344.7,219.2L342.4,221.3L340.6,222.6L337.4,224.4L334.8,225.0L334.7,224.2L334.9,223.5L334.8,222.1Z" fill="#9c6d0f"/>
<path d="M336.0,221.8L335.5,221.2L336.5,220.3L335.1,214.7L339.5,213.8L343.3,212.8L344.4,216.9L344.3,217.5L339.3,219.3Z" fill="#e2a01c"/>
<path d="M343.3,212.8L344.4,216.9L344.3,217.5L346.2,216.1L347.5,215.4L346.8,214.2L345.5,213.1L345.3,212.3Z" fill="#f6f6f6"/>
<path d="M335.1,214.7L335.1,209.8L339.0,209.0L344.5,207.8L344.9,207.3L346.5,206.0L348.0,207.2L347.0,208.5L346.7,210.0L348.0,210.0L348.9,211.5L349.7,212.7L351.0,212.8L352.1,212.0L350.9,210.5L352.3,210.9L352.8,212.7L351.2,213.5L349.7,214.5L349.4,213.3L348.4,214.5L347.5,215.4L346.8,214.2L345.5,213.1L345.3,212.3L343.3,212.8L339.5,213.8Z" fill="#9c6e12"/>
<path d="M335.1,209.8L333.9,204.5L333.1,204.4L332.4,200.4L331.1,195.1L339.6,192.9L340.1,195.6L339.9,196.7L338.3,198.2L338.6,199.5L338.4,201.7L338.0,203.2L338.2,205.9L338.3,208.0L339.0,209.0Z" fill="#f5e4b8"/>
<path d="M339.0,209.0L338.3,208.0L338.2,205.9L338.0,203.2L338.4,201.7L338.6,199.5L338.3,198.2L339.9,196.7L340.1,195.6L339.6,192.9L339.6,191.2L341.0,190.5L342.7,195.6L344.1,200.2L344.9,202.8L345.9,203.7L346.7,204.6L346.5,206.0L344.9,207.3L344.5,207.8Z" fill="#f6e5ba"/>
<path d="M341.0,190.5L342.7,195.6L344.1,200.2L344.9,202.8L345.9,203.7L346.7,204.6L347.1,203.9L347.6,202.0L348.0,200.1L350.5,198.1L352.5,196.4L352.8,193.2L353.2,193.7L356.1,193.2L358.6,190.7L360.5,188.0L358.5,186.5L357.6,185.9L356.9,183.8L355.2,183.8L354.8,182.4L352.5,174.8L349.7,173.6L347.4,175.6L346.5,175.0L345.4,174.2L343.4,180.1L343.7,182.1L343.0,183.7L343.3,186.7L342.6,189.4L342.2,190.5Z" fill="#dddddd"/>
<path d="M301.0,222.1L302.5,231.1L301.9,231.4L302.2,232.8L301.9,234.9L301.8,237.3L301.2,238.8L299.7,240.4L298.7,241.1L297.9,242.5L297.3,243.9L296.1,244.4L296.1,246.1L294.9,247.5L294.2,247.6L292.7,246.6L291.8,245.8L290.4,246.9L288.0,246.9L285.6,246.2L284.9,245.2L283.8,244.3L282.1,244.5L280.1,227.0L286.8,225.9L289.2,226.8L290.5,227.0L292.3,227.2L295.7,226.2L298.8,223.3Z" fill="#dddddd"/>
<path d="M280.1,227.0L282.1,244.5L282.5,246.5L281.1,247.0L279.5,247.3L277.9,250.7L277.1,252.6L275.1,251.7L274.2,252.6L272.8,253.4L271.2,254.8L268.6,253.6L266.2,255.0L267.4,250.8L268.6,248.7L267.5,246.0L268.0,244.3L266.6,228.4L268.3,228.7L270.1,227.6L280.1,226.6Z" fill="#dddddd"/>
<path d="M266.6,228.4L268.0,244.3L267.5,246.0L268.6,248.7L267.4,250.8L266.2,255.0L266.1,257.1L264.3,257.9L264.4,259.3L263.7,260.2L261.5,259.5L260.8,261.0L259.4,260.3L258.7,259.0L258.7,257.3L256.9,255.0L255.9,254.6L253.9,252.8L254.7,250.2L254.6,248.4L252.0,248.3L251.7,247.2L249.8,244.9L247.9,242.9L247.4,241.3L247.6,238.7L249.2,236.4L249.8,234.7L249.0,233.0L249.9,231.4L252.6,230.2L253.5,228.7L253.3,226.6L252.1,225.4L250.7,224.1L257.8,223.6L264.8,223.1L266.1,227.4Z" fill="#dddddd"/>
<path d="M264.8,223.1L257.8,223.6L250.7,224.1L248.4,222.5L248.1,220.2L247.6,217.5L247.4,215.8L246.1,214.2L244.1,212.2L242.1,210.8L239.6,209.3L239.8,207.6L240.2,204.9L239.0,203.3L239.6,201.9L241.7,200.2L241.5,196.5L242.4,196.0L243.4,196.1L246.5,194.9L248.6,194.1L248.7,195.8L250.4,196.6L251.8,198.0L256.6,199.1L258.0,199.7L260.4,200.0L261.4,201.0L262.7,202.2L263.8,203.8L264.2,205.5L263.0,207.6L262.6,209.3L263.7,208.2L266.7,203.9L265.1,210.5L264.5,214.6L264.0,219.4Z" fill="#dddddd"/>
<path d="M280.1,227.0L280.1,226.6L270.1,227.6L271.2,225.5L272.5,223.0L272.4,219.6L271.6,217.3L270.3,214.4L270.4,212.0L271.0,208.6L271.4,206.1L272.8,205.3L273.8,203.8L273.9,206.5L274.6,204.1L276.3,202.2L275.6,200.9L277.1,199.5L279.8,200.2L283.3,201.7L284.5,203.5L284.9,205.9L285.2,208.6L284.0,210.4L282.9,213.0L284.8,212.7L285.5,210.9L287.1,209.9L289.1,211.8L290.5,216.7L290.6,219.1L288.9,221.0L288.1,222.2L287.8,223.9L286.8,225.9ZM264.2,205.5L263.8,203.8L262.7,202.2L261.4,201.0L260.4,200.0L258.0,199.7L256.6,199.1L251.8,198.0L250.4,196.6L253.5,194.6L255.3,194.2L257.0,192.6L259.2,190.7L261.4,189.7L261.1,191.2L260.2,192.0L259.3,194.4L261.8,193.5L264.3,195.7L266.6,196.1L267.8,196.2L270.2,194.3L275.2,193.1L275.4,194.9L277.3,194.8L278.4,194.5L279.8,196.0L280.9,197.6L278.8,198.0L277.2,198.9L275.7,197.9L273.0,198.2L270.2,199.1L268.8,201.7L267.8,200.4L266.6,200.9L265.2,203.0Z" fill="#dddddd"/>
<path d="M104.1,300.4L110.2,300.1L119.3,301.1L120.3,308.9L121.3,315.3L123.1,319.7L123.8,322.6L121.8,322.2L120.3,319.7L117.1,319.3L115.3,320.3L113.4,320.3L110.8,323.1L108.3,326.0L107.0,327.9L105.8,330.7L105.2,329.1L106.4,326.0L103.9,326.0L101.1,324.7L100.1,322.6L97.3,321.6L96.9,319.3L99.5,317.8L102.6,316.8L103.6,314.6L102.6,311.7L97.8,311.2L97.8,309.6L101.4,308.9L102.0,307.0L100.1,305.4L100.7,303.3Z" fill="#dddddd" stroke="none"/><path d="M171.4,329.8L173.6,328.9L175.9,332.3L172.1,334.8L170.8,332.9Z" fill="#dddddd" stroke="none"/></g></g>
<rect x="195" y="355.1" width="62.7" height="5.6" fill="url(#gb)"/>
<rect x="510" y="355.1" width="64" height="5.6" fill="url(#go)"/>
<text x="53.0" y="65.7" font-size="9.0" font-weight="normal" fill="#000" textLength="87.5" lengthAdjust="spacingAndGlyphs" stroke="#000" stroke-width="0.15">As of August 11, 2019</text>
<text x="54.0" y="97.7" font-size="14" font-weight="bold" fill="#000" textLength="135.4" lengthAdjust="spacingAndGlyphs" >Guest Source Map</text>
<text x="53.7" y="116.2" font-size="11.8" font-weight="normal" fill="#000" textLength="327.9" lengthAdjust="spacingAndGlyphs" >View of Guest's Location by State as a Percent of Revenue</text>
<text x="102.6" y="153.0" font-size="12" font-weight="bold" fill="#404040" textLength="219.7" lengthAdjust="spacingAndGlyphs" >Your Property's Top States / Provinces</text>
<text x="430.6" y="153.0" font-size="12" font-weight="bold" fill="#404040" textLength="195.0" lengthAdjust="spacingAndGlyphs" >Comp Set's Top States / Provinces</text>
<text x="153.8" y="361.6" font-size="8.6" font-weight="normal" fill="#595959" textLength="24.8" lengthAdjust="spacingAndGlyphs" >Series1</text>
<text x="186.0" y="373.8" font-size="8.3" font-weight="normal" fill="#595959" textLength="17.0" lengthAdjust="spacingAndGlyphs" >2.3%</text>
<text x="216.6" y="373.8" font-size="8.3" font-weight="normal" fill="#595959" textLength="21.2" lengthAdjust="spacingAndGlyphs" >11.4%</text>
<text x="248.9" y="373.8" font-size="8.3" font-weight="normal" fill="#595959" textLength="21.2" lengthAdjust="spacingAndGlyphs" >20.6%</text>
<text x="321.8" y="332.6" font-size="5.2" font-weight="normal" fill="#222" textLength="40.4" lengthAdjust="spacingAndGlyphs" >Powered by Bing</text>
<text x="297.1" y="340.7" font-size="5.2" font-weight="normal" fill="#222" textLength="64.6" lengthAdjust="spacingAndGlyphs" >© GeoNames, HERE, MSFT</text>
<text x="468.8" y="361.6" font-size="8.6" font-weight="normal" fill="#595959" textLength="24.8" lengthAdjust="spacingAndGlyphs" >Series1</text>
<text x="501.0" y="373.8" font-size="8.3" font-weight="normal" fill="#595959" textLength="17.0" lengthAdjust="spacingAndGlyphs" >2.3%</text>
<text x="531.6" y="373.8" font-size="8.3" font-weight="normal" fill="#595959" textLength="21.2" lengthAdjust="spacingAndGlyphs" >11.5%</text>
<text x="563.9" y="373.8" font-size="8.3" font-weight="normal" fill="#595959" textLength="21.2" lengthAdjust="spacingAndGlyphs" >20.7%</text>
<text x="636.8" y="332.6" font-size="5.2" font-weight="normal" fill="#222" textLength="40.4" lengthAdjust="spacingAndGlyphs" >Powered by Bing</text>
<text x="612.1" y="340.7" font-size="5.2" font-weight="normal" fill="#222" textLength="64.6" lengthAdjust="spacingAndGlyphs" >© GeoNames, HERE, MSFT</text>
<text x="50.5" y="575.2" font-size="8.6" font-weight="normal" fill="#000" textLength="110.7" lengthAdjust="spacingAndGlyphs" stroke="#000" stroke-width="0.15">© Sterling Valley Systems, Inc.</text>
<text x="50.0" y="587.3" font-size="8.6" font-weight="normal" fill="#000" textLength="71.8" lengthAdjust="spacingAndGlyphs" stroke="#000" stroke-width="0.15">All Rights Reserved.</text>
<text x="372.7" y="575.0" font-size="8.6" font-weight="normal" fill="#000" textLength="46.0" lengthAdjust="spacingAndGlyphs" stroke="#000" stroke-width="0.15">Confidential.</text>
<text x="308.8" y="587.3" font-size="8.6" font-weight="normal" fill="#000" textLength="173.5" lengthAdjust="spacingAndGlyphs" stroke="#000" stroke-width="0.15">Source:&#160; Inntopia Commerce Transactional Data</text>
<text x="712.7" y="585.9" font-size="8.6" font-weight="normal" fill="#000" textLength="28.3" lengthAdjust="spacingAndGlyphs" stroke="#000" stroke-width="0.15">Page 12</text>

</svg>
</body></html>
